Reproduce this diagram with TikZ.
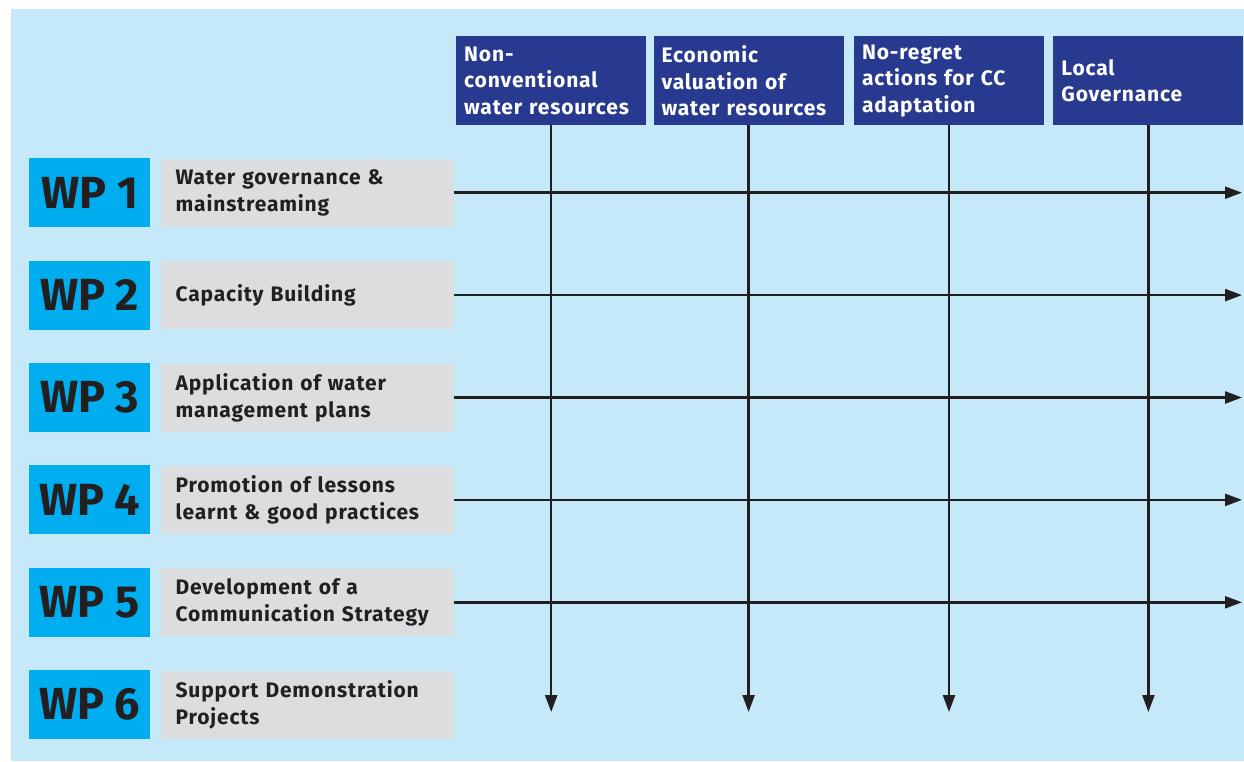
\documentclass[tikz,border=0pt]{standalone}
\usepackage{fontspec}
\setmainfont{Fira Sans}
\newfontfamily\widefont[LetterSpace=4]{Fira Sans}
\usetikzlibrary{arrows.meta,positioning}

\definecolor{bgblue}{HTML}{C5E9F8}
\definecolor{wpcyan}{HTML}{00AEEF}
\definecolor{taskgray}{HTML}{DCDDDF}
\definecolor{headnavy}{HTML}{283A8F}
\definecolor{inkdark}{HTML}{231F20}

\begin{document}
\begin{tikzpicture}[x=1pt,y=-1pt,
                  every node/.style={rectangle,inner sep=0pt},
                  node distance=33pt and 10pt,
                  wp/.style={fill=wpcyan,text=inkdark,minimum width=121pt,minimum height=69pt,
                             font=\fontsize{45}{50}\selectfont\bfseries},
                  task/.style={fill=taskgray,text=inkdark,inner xsep=15pt,text width=263pt,
                               minimum height=68pt,align=left,font=\widefont\fontsize{21}{27}\selectfont\bfseries},
                  head/.style={fill=headnavy,text=white,inner xsep=8pt,text width=174pt,
                               minimum height=89pt,align=left,font=\widefont\fontsize{21}{26.5}\selectfont\bfseries},
                  flow/.style={draw=inkdark,line width=2.4pt,-{Triangle[length=17pt,width=12pt]}},
            ]
            \useasboundingbox (0,0) rectangle (1244,762);
            \fill[bgblue] (11,9) rectangle (1244,761);

            \node[head,anchor=north west] (h1) at (456,36) {Non-\\conventional\\water resources};
            \node[head] (h2) [right=7pt of h1] {Economic\\valuation of\\water resources};
            \node[head] (h3) [right=10pt of h2] {No-regret\\actions for CC\\adaptation};
            \node[head] (h4) [right=9pt of h3] {Local\\Governance};

            \node[wp,anchor=north west] (wp1) at (29,158) {WP 1};
            \node[task] (t1) [right=of wp1] {Water governance \&\\mainstreaming};

            \node[wp] (wp2) [below=of wp1] {WP 2};
            \node[task] (t2) [right=of wp2] {Capacity Building};

            \node[wp] (wp3) [below=of wp2] {WP 3};
            \node[task] (t3) [right=of wp3] {Application of water\\management plans};

            \node[wp] (wp4) [below=of wp3] {WP 4};
            \node[task] (t4) [right=of wp4] {Promotion of lessons\\learnt \& good practices};

            \node[wp] (wp5) [below=of wp4] {WP 5};
            \node[task] (t5) [right=of wp5] {Development of a\\Communication Strategy};

            \node[wp] (wp6) [below=of wp5] {WP 6};
            \node[task] (t6) [right=of wp6] {Support Demonstration\\Projects};

            \coordinate (bottom) at (0,712);
            \coordinate (rightend) at (1242,0);

            \foreach \h in {h1,h2,h3,h4}
                  \draw[flow] (\h.south) -- (\h.south |- bottom);
            \foreach \t in {t1,t2,t3,t4,t5}
                  \draw[flow] (\t.east) -- (\t.east -| rightend);
      \end{tikzpicture}
\end{document}
